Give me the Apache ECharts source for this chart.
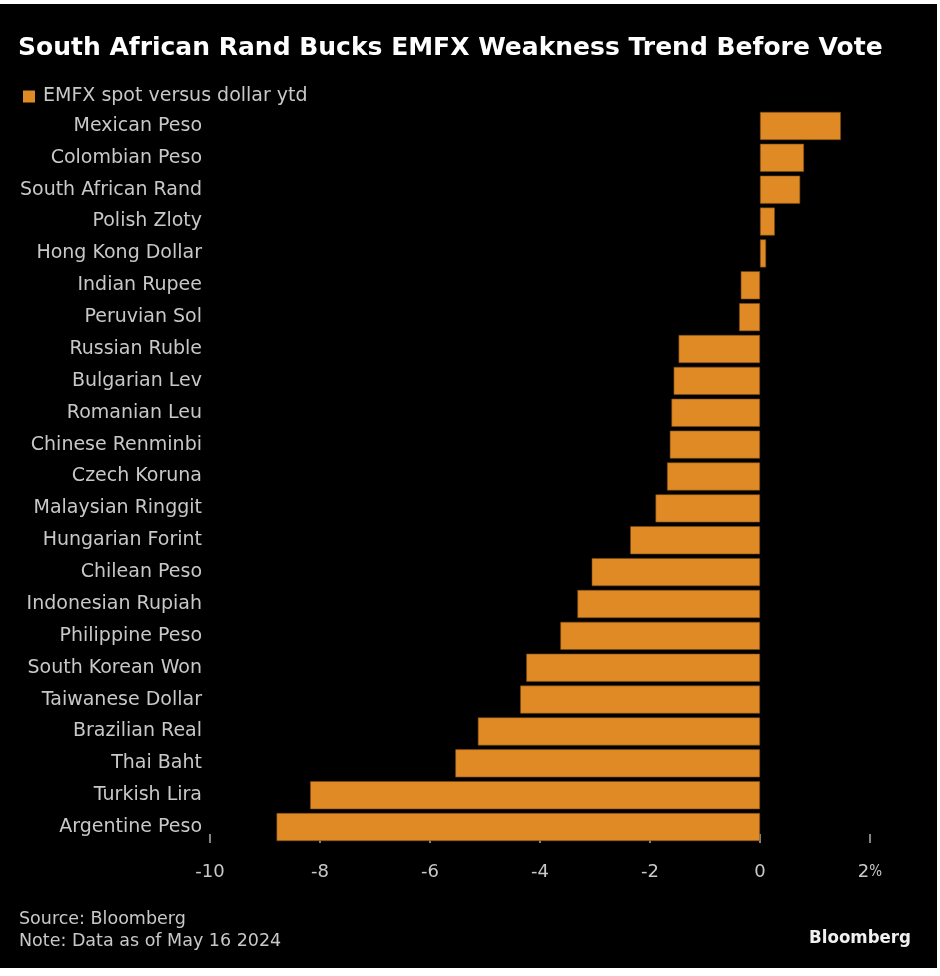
<!DOCTYPE html>
<html>
<head>
<meta charset="utf-8">
<script src="https://cdn.jsdelivr.net/npm/echarts@6/dist/echarts.min.js"></script>
<style>
html,body{margin:0;padding:0;background:#fff;}
#chart{width:940px;height:976px;}
</style>
</head>
<body>
<div id="chart"></div>
<script>
const categories = ["Mexican Peso","Colombian Peso","South African Rand","Polish Zloty","Hong Kong Dollar","Indian Rupee","Peruvian Sol","Russian Ruble","Bulgarian Lev","Romanian Leu","Chinese Renminbi","Czech Koruna","Malaysian Ringgit","Hungarian Forint","Chilean Peso","Indonesian Rupiah","Philippine Peso","South Korean Won","Taiwanese Dollar","Brazilian Real","Thai Baht","Turkish Lira","Argentine Peso"];
const values = [1.47,0.80,0.73,0.27,0.11,-0.35,-0.38,-1.48,-1.57,-1.61,-1.64,-1.69,-1.90,-2.36,-3.06,-3.32,-3.63,-4.25,-4.36,-5.13,-5.54,-8.18,-8.79];
const seriesName = "EMFX spot versus dollar ytd";
const titleText = "South African Rand Bucks EMFX Weakness Trend Before Vote";
const footerText = "Source: Bloomberg\nNote: Data as of May 16 2024";
const brandText = "Bloomberg";
const xTicks = {min: -10, max: 2, interval: 2};

const FONT = "'DejaVu Sans', sans-serif";
const FONT_C = "'DejaVu Sans Condensed', 'DejaVu Sans', sans-serif";
const chart = echarts.init(document.getElementById('chart'), null, {renderer: 'canvas'});
chart.setOption({
  backgroundColor: '#ffffff',
  animation: false,
  graphic: [{
    type: 'rect', z: -10, silent: true,
    shape: {x: 0, y: 4, width: 937, height: 964},
    style: {fill: '#000000'}
  }],
  title: [
    {text: titleText, left: 18, top: 36, padding: 0,
     textStyle: {color: '#ffffff', fontSize: 25, fontWeight: 'bold', fontFamily: FONT}},
    {text: footerText, left: 19, top: 908, padding: 0,
     textStyle: {color: '#c8c8c8', fontSize: 17.5, fontWeight: 'normal', fontFamily: FONT, lineHeight: 22}},
    {text: brandText, right: 29, top: 929, padding: 0,
     textStyle: {color: '#f0f0f0', fontSize: 18.5, fontWeight: 'bold', fontFamily: FONT_C}}
  ],
  legend: {
    left: 23, top: 87, padding: 0, itemWidth: 12, itemHeight: 12, itemGap: 8, icon: 'rect',
    itemStyle: {borderWidth: 0},
    textStyle: {color: '#c8c8c8', fontSize: 19, fontFamily: FONT, padding: [0, 0, 0, 3]},
    data: [seriesName]
  },
  grid: {left: 210, right: 70, top: 110, bottom: 133, containLabel: false},
  xAxis: {
    type: 'value', min: xTicks.min, max: xTicks.max, interval: xTicks.interval,
    axisLine: {show: false},
    splitLine: {show: false},
    axisTick: {show: true, inside: true, length: 9, lineStyle: {color: '#b0b0b0', width: 1.5}},
    axisLabel: {
      color: '#c8c8c8', fontSize: 18, fontFamily: FONT, margin: 20,
      formatter: function (v) { return v === xTicks.max ? v + '{p|%}' : String(v); },
      rich: {p: {fontSize: 15, color: '#c8c8c8', fontFamily: FONT_C}}
    }
  },
  yAxis: {
    type: 'category', data: categories, inverse: true,
    axisLine: {show: false}, axisTick: {show: false}, splitLine: {show: false},
    axisLabel: {color: '#c8c8c8', fontSize: 19, fontFamily: FONT, margin: 8}
  },
  series: [{
    name: seriesName, type: 'bar', data: values,
    barCategoryGap: '12%',
    itemStyle: {color: '#e08a26', borderColor: '#7a4a12', borderWidth: 0.6}
  }]
});
</script>
</body>
</html>
